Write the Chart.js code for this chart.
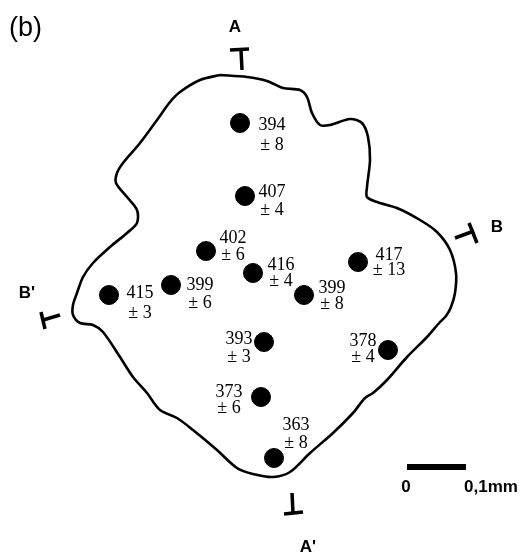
<!DOCTYPE html>
<html>
<head>
<meta charset="utf-8">
<script src="https://cdn.jsdelivr.net/npm/chart.js@4/dist/chart.umd.min.js"></script>
<style>
  html, body { margin: 0; padding: 0; background: #fff; }
  #wrap { width: 527px; height: 560px; }
</style>
</head>
<body>
<div id="wrap"><canvas id="grain" width="527" height="560"></canvas></div>
<script>
// ── Data (figure coordinates, x right, y down) ──
const dotX = [240, 245, 206, 253, 358, 109, 171, 304, 264, 388, 261, 274];
const dotY = [123, 196, 251, 273, 262, 295, 285, 295, 342, 350, 397, 458];
const meanValues = [394, 407, 402, 416, 417, 415, 399, 399, 393, 378, 373, 363];
const errValues = [8, 4, 6, 4, 13, 3, 6, 8, 3, 4, 6, 8];

// grain outline, traced clockwise from the top
const outlineX = [220, 247, 267, 283, 300, 307, 312, 320, 330, 350, 362, 368, 370, 367, 367, 377, 397, 420, 437, 450, 456, 455, 451, 446, 440, 427, 407, 387, 373, 365, 353, 333, 310, 290, 273, 253, 237, 217, 193, 177, 160, 147, 133, 120, 103, 93, 80, 73, 73, 77, 83, 93, 110, 127, 137, 137, 127, 116, 117, 123, 140, 157, 170, 180, 200, 220];
const outlineY = [75, 77, 81, 88, 90, 97, 113, 125, 125, 119, 123, 137, 160, 187, 197, 202, 208, 220, 232, 250, 273, 293, 307, 316, 322, 337, 357, 380, 393, 398, 413, 433, 453, 472, 477, 474, 468, 450, 430, 418, 410, 393, 377, 357, 332, 325, 323, 315, 305, 293, 277, 263, 247, 233, 223, 210, 197, 183, 173, 163, 143, 120, 102, 92, 80, 75];

// section marks (T shapes): stem from outline, crossbar at the tip
const sectionNames = ['A', 'B', "B'", "A'"];
const sectionStemX = [[242, 241], [455, 474], [60, 43], [292, 293]];
const sectionStemY = [[70, 50], [238, 231], [315, 320], [493, 513]];
const sectionBarX = [[230, 249], [469, 477], [41, 45], [284, 303]];
const sectionBarY = [[50, 49], [223, 243], [312, 329], [514, 512]];
const sectionLabelX = [235, 497, 27, 308];
const sectionLabelY = [27, 227, 293, 547];

// scale bar
const scaleBarX = [407, 466];
const scaleBarY = [467, 467];
const scaleTicks = ['0', '0,1mm'];
const scaleTickX = [406, 491];
const scaleTickY = [487, 487];

const panelLabel = '(b)';

// label placement relative to each dot: [dx, dy first line, dy second line]
const labelOffsets = [
  [32, 2, 22], [27, -4, 14], [27, -13, 4], [28, -8, 8],
  [31, -7, 8], [31, -2, 18], [29, 0, 18], [28, -7, 9],
  [-25, -3, 15], [-25, -9, 7], [-32, -5, 11], [22, -33, -15]
];

const toPts = (xs, ys) => xs.map((x, i) => ({ x, y: ys[i] }));

const datasets = [];
datasets.push({
  type: 'line',
  data: toPts(outlineX, outlineY),
  borderColor: '#000',
  borderWidth: 2.6,
  pointRadius: 0,
  tension: 0.3,
  fill: false
});
sectionNames.forEach((n, i) => {
  datasets.push({ type: 'line', data: toPts(sectionStemX[i], sectionStemY[i]), borderColor: '#000', borderWidth: 3.5, pointRadius: 0 });
  datasets.push({ type: 'line', data: toPts(sectionBarX[i], sectionBarY[i]), borderColor: '#000', borderWidth: 3.5, pointRadius: 0 });
});
datasets.push({ type: 'line', data: toPts(scaleBarX, scaleBarY), borderColor: '#000', borderWidth: 6, pointRadius: 0, borderCapStyle: 'butt' });
datasets.push({
  type: 'scatter',
  data: toPts(dotX, dotY),
  backgroundColor: '#000',
  borderColor: '#000',
  pointRadius: 9.5,
  pointHoverRadius: 9.5
});

// ── Text labels drawn through the scales ──
const textPlugin = {
  id: 'figText',
  afterDatasetsDraw(chart) {
    const { ctx, scales: { x, y } } = chart;
    ctx.save();
    ctx.fillStyle = '#000';
    ctx.textBaseline = 'middle';
    ctx.textAlign = 'center';

    ctx.font = '18px "Liberation Serif", "Times New Roman", serif';
    meanValues.forEach((v, i) => {
      const px = x.getPixelForValue(dotX[i]);
      const py = y.getPixelForValue(dotY[i]);
      const [dx, dy1, dy2] = labelOffsets[i];
      ctx.fillText(String(v), px + dx, py + dy1);
      ctx.fillText('\u00B1 ' + errValues[i], px + dx, py + dy2);
    });

    ctx.font = 'bold 17px "Liberation Sans", Arial, sans-serif';
    sectionNames.forEach((n, i) => {
      ctx.fillText(n, x.getPixelForValue(sectionLabelX[i]), y.getPixelForValue(sectionLabelY[i]));
    });
    scaleTicks.forEach((t, i) => {
      ctx.fillText(t, x.getPixelForValue(scaleTickX[i]), y.getPixelForValue(scaleTickY[i]));
    });

    ctx.textAlign = 'left';
    ctx.font = '27px "Liberation Sans", Arial, sans-serif';
    ctx.fillText(panelLabel, x.getPixelForValue(9), y.getPixelForValue(29));
    ctx.restore();
  }
};

new Chart(document.getElementById('grain').getContext('2d'), {
  type: 'scatter',
  data: { datasets },
  options: {
    responsive: false,
    animation: false,
    events: [],
    layout: { padding: 0, autoPadding: false },
    plugins: { legend: { display: false }, tooltip: { enabled: false } },
    scales: {
      x: { type: 'linear', min: 0, max: 527, display: false },
      y: { type: 'linear', min: 0, max: 560, reverse: true, display: false }
    }
  },
  plugins: [textPlugin]
});
</script>
</body>
</html>
